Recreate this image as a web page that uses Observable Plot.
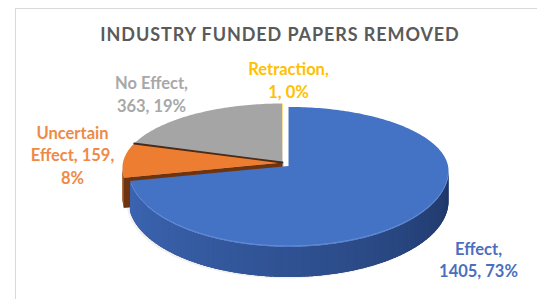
<!DOCTYPE html>
<html>
<head>
<meta charset="utf-8">
<script src="https://cdn.jsdelivr.net/npm/d3@7"></script>
<script src="https://cdn.jsdelivr.net/npm/@observablehq/plot@0.6"></script>
<style>
  html, body { margin: 0; padding: 0; background: #fff; width: 537px; height: 299px; overflow: hidden; }
  #frame { position: absolute; left: 15px; top: 8px; width: 540px; height: 300px; border: 1px solid #d9d9d9; box-sizing: border-box; }
  #title { position: absolute; left: 15px; width: 530px; top: 23px; text-align: center;
           font-family: Lato, sans-serif; font-weight: bold; font-size: 18px; color: #5a5a5a; letter-spacing: 0.9px; }
  #chart { position: absolute; left: 0; top: 46px; }
</style>
</head>
<body>
<div id="frame"></div>
<div id="title">INDUSTRY FUNDED PAPERS REMOVED</div>
<div id="chart"></div>
<script>
// ---- data ----
const categories = ["Effect", "Uncertain Effect", "No Effect", "Retraction"];
const counts = [1405, 159, 363, 1];
const percents = ["73%", "8%", "19%", "0%"];
// word index after which each label wraps
const labelBreaks = [[0], [0, 2], [1], [0]];

// ---- styles / layout ----
const topColors = ["#4472C4", "#ED7D31", "#A5A5A5", "#FFC000"];
const labelColors = ["#4A6FBE", "#EE8A47", "#A8A8A8", "#FFC000"];
const sideDark = ["#1D3463", "#8A420F", "#6b6b6b", "#B08400"];
const sideLight = ["#3D67B5", "#A4541D", "#8a8a8a", "#C99A00"];
const explode = [8, 0, 0, 0];
const labelPos = [[478, 258.5], [72, 153.5], [151, 93], [288, 79]];
const W = 537, H = 299, svgTop = 46;
const cx = 282, cy = 167, apexY = 162, rx = 160, ryTop = 64, ryBot = 76, depth = 30;

const pie = d3.pie().sort(null).startAngle(0).endAngle(2 * Math.PI)(counts);

function pt(a, off) {
  const c = Math.cos(a), s = Math.sin(a);
  return [cx + off[0] + rx * s, cy + off[1] - (c > 0 ? ryTop : ryBot) * c];
}
function offsetOf(i, a0, a1) {
  const m = (a0 + a1) / 2;
  return [explode[i] * Math.sin(m), -explode[i] * Math.cos(m) * 0.65];
}
function arcPts(a0, a1, off, dy = 0) {
  const n = Math.max(2, Math.ceil((a1 - a0) / (Math.PI / 180)));
  return d3.range(n + 1).map(k => { const p = pt(a0 + (a1 - a0) * k / n, off); return [p[0], p[1] + dy]; });
}

const marks = [];
const drawOrder = [1, 2, 3, 0];   // back slices first, exploded front slice last

// soft shadow under the pie
{
  const shadowPts = arcPts(Math.PI / 2, 3 * Math.PI / 2, [4, 4], depth + 1);
  marks.push(Plot.line(shadowPts.map(([x, y]) => ({x, y})), {x: "x", y: "y", fill: "#000", fillOpacity: 0.06, stroke: "none", curve: "linear-closed"}));
}

for (const i of drawOrder) {
  const {startAngle: a0, endAngle: a1} = pie[i];
  const off = offsetOf(i, a0, a1);
  const apex = [cx + off[0], apexY + off[1]];
  // radial wall at start angle (visible where it faces the viewer)
  if (i === 1) {
    const p = pt(a0, off);
    const quad = [apex, p, [p[0], p[1] + depth], [apex[0], apex[1] + depth]];
    marks.push(Plot.line(quad.map(([x, y]) => ({x, y})), {x: "x", y: "y", fill: "#6e3410", stroke: "#6e3410", strokeWidth: 0.5, curve: "linear-closed"}));
  }
  // outer side wall, front-facing part: base fill, then shading bands
  const v0 = Math.max(a0, Math.PI / 2), v1 = Math.min(a1, 3 * Math.PI / 2);
  if (v1 > v0) {
    const baseTop = arcPts(v0, v1, off), baseBot = arcPts(v0, v1, off, depth).reverse();
    marks.push(Plot.line(baseTop.concat(baseBot).map(([x, y]) => ({x, y})), {x: "x", y: "y", fill: sideDark[i], stroke: "none", curve: "linear-closed"}));
    const n = Math.max(2, Math.ceil((v1 - v0) / (Math.PI / 120)));
    const shade = d3.interpolateRgb(sideDark[i], sideLight[i]);
    for (let k = 0; k < n; k++) {
      const b0 = v0 + (v1 - v0) * k / n, b1 = Math.min(v1, v0 + (v1 - v0) * (k + 1.6) / n);
      const top = arcPts(b0, b1, off);
      const bot = arcPts(b0, b1, off, depth).reverse();
      const t = ((b0 + b1) / 2 - Math.PI / 2) / Math.PI;
      const col = shade(Math.pow(Math.max(0, t), 0.8));
      marks.push(Plot.line(top.concat(bot).map(([x, y]) => ({x, y})), {x: "x", y: "y", fill: col, stroke: "none", curve: "linear-closed"}));
    }
  }
  // top face
  const poly = [apex].concat(arcPts(a0, a1, off)).map(([x, y]) => ({x, y, category: categories[i]}));
  marks.push(Plot.line(poly, {x: "x", y: "y", fill: "category", stroke: "none", curve: "linear-closed"}));
  // highlight rim on the front edge of the exploded slice
  if (v1 > v0 && i === 0) {
    marks.push(Plot.line(arcPts(v0 + 0.05, v1 - 0.05, off).map(([x, y]) => ({x, y: y - 1})), {x: "x", y: "y", stroke: "#6f95d8", strokeWidth: 1, strokeOpacity: 0.8}));
  }
  // dark seam between Uncertain Effect and No Effect
  if (i === 2) {
    const p = pt(a0, off);
    marks.push(Plot.line([{x: apex[0], y: apex[1]}, {x: p[0], y: p[1]}], {x: "x", y: "y", stroke: "#4a2a18", strokeWidth: 1.8}));
  }
}

// data labels
const labels = categories.map((c, i) => {
  const words = `${c}, ${counts[i]}, ${percents[i]}`.split(" ");
  let text = "";
  words.forEach((w, j) => { text += w + (j === words.length - 1 ? "" : (labelBreaks[i].includes(j) ? "\n" : " ")); });
  return {text, x: labelPos[i][0], y: labelPos[i][1], color: labelColors[i]};
});
for (const l of labels) {
  marks.push(Plot.text([l], {x: "x", y: "y", text: "text", fill: l.color, fontWeight: "bold", fontSize: 16.5, lineHeight: 1.36, fontFamily: "Lato, sans-serif"}));
}

const chart = Plot.plot({
  width: W, height: H - svgTop,
  margin: 0,
  x: {domain: [0, W], range: [0, W], axis: null},
  y: {domain: [svgTop, H], range: [0, H - svgTop], axis: null},
  color: {domain: categories, range: topColors},
  style: {background: "transparent", overflow: "visible"},
  marks
});
document.getElementById("chart").appendChild(chart);
</script>
</body>
</html>
